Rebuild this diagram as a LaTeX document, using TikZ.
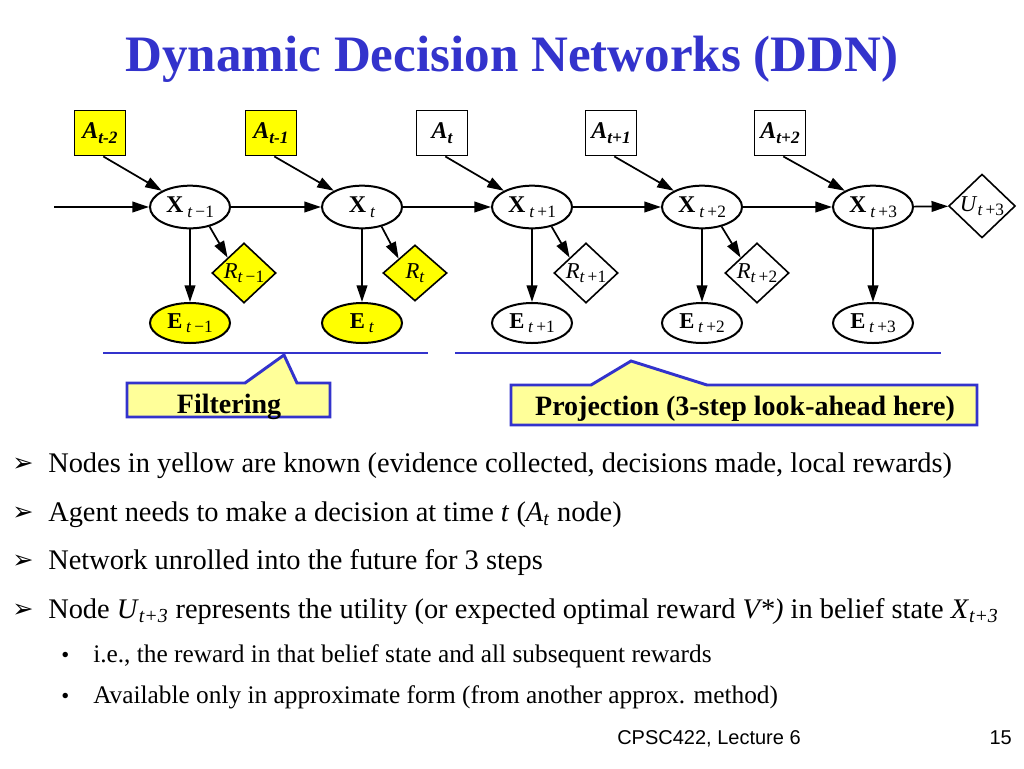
\documentclass[tikz,border=0pt]{standalone}
\usepackage{fontspec}
\setmainfont{Liberation Serif}
\setsansfont{Liberation Sans}
\newfontfamily\dejavu{DejaVu Sans}
\usetikzlibrary{shapes.geometric,arrows.meta}
\definecolor{ttl}{HTML}{3333CC}
\definecolor{yel}{HTML}{FFFF00}
\definecolor{lyel}{HTML}{FFFF99}
\newcommand\sbs[1]{\textsubscript{#1}}
% diagram subscripts
\newcommand\dsb[1]{\raisebox{-0.45ex}{\fontsize{13}{13}\selectfont #1}}
\newcommand\asb[1]{\raisebox{-0.5ex}{\fontsize{13}{13}\selectfont #1}}
\begin{document}
\begin{tikzpicture}[x=0.75pt,y=-0.75pt,
  arr/.style={-{Triangle[length=12.5pt,width=8pt]}, line width=1.3pt},
  xnode/.style={ellipse, draw, line width=1.5pt, minimum width=60pt, minimum height=32pt, inner sep=0pt, fill=white, font=\fontsize{18}{18}\selectfont},
  enode/.style={ellipse, draw, line width=1.5pt, minimum width=60pt, minimum height=30pt, inner sep=0pt, font=\fontsize{17}{17}\selectfont},
  rnode/.style={diamond, draw, line width=1.2pt, minimum width=48pt, minimum height=42pt, inner sep=0pt, font=\fontsize{17}{17}\selectfont},
  anode/.style={rectangle, draw, line width=1.2pt, minimum width=38pt, minimum height=34pt, inner sep=0pt, font=\fontsize{18}{18}\selectfont\bfseries\itshape},
  known/.style={fill=yel},
  callout/.style={fill=lyel, draw=ttl, line width=2.2pt, line join=miter},
  bar/.style={draw=ttl, line width=1.6pt},
  bodytxt/.style={anchor=base west, inner sep=0pt, font=\fontsize{21.3}{21.3}\selectfont},
  subtxt/.style={anchor=base west, inner sep=0pt, font=\fontsize{19}{19}\selectfont},
  bul/.style={anchor=base west, inner sep=0pt, font=\dejavu\fontsize{19}{19}\selectfont},
  dot/.style={anchor=base west, inner sep=0pt, font=\fontsize{17}{17}\selectfont}]
\useasboundingbox (0,0) rectangle (1024,768);
\fill[white] (0,0) rectangle (1024,768);

% title
\node[anchor=base, inner sep=0pt, text=ttl, font=\fontsize{38.3}{38.3}\selectfont\bfseries] (title) at (512,71) {Dynamic Decision Networks (DDN)};

% decision nodes
\node[anode,known] (A1) at (100,133) {A\asb{t-2}};
\node[anode,known] (A2) at (271,133) {A\asb{t-1}};
\node[anode] (A3) at (442,133) {A\asb{t}};
\node[anode] (A4) at (611,133) {A\asb{t+1}};
\node[anode] (A5) at (780,133) {A\asb{t+2}};

% state nodes
\node[xnode] (X1) at (190,207) {\textbf{X}\,\dsb{\textit{t}\,−1}};
\node[xnode] (X2) at (362,207) {\textbf{X}\,\dsb{\textit{t}}};
\node[xnode] (X3) at (532,207) {\textbf{X}\,\dsb{\textit{t}\,+1}};
\node[xnode] (X4) at (702,207) {\textbf{X}\,\dsb{\textit{t}\,+2}};
\node[xnode] (X5) at (873,207) {\textbf{X}\,\dsb{\textit{t}\,+3}};

% utility
\node[rnode, minimum width=50pt] (U) at (982,206) {\textit{U}\dsb{\textit{t}\,+3}};

% reward nodes
\node[rnode,known] (R1) at (244,273) {\textit{R}\dsb{\textit{t}\,−1}};
\node[rnode,known] (R2) at (415,273) {\textit{R}\dsb{\textit{t}}};
\node[rnode] (R3) at (586,273) {\textit{R}\dsb{\textit{t}\,+1}};
\node[rnode] (R4) at (757,273) {\textit{R}\dsb{\textit{t}\,+2}};

% evidence nodes
\node[enode,known] (E1) at (190,323) {\textbf{E}\,\dsb{\textit{t}\,−1}};
\node[enode,known] (E2) at (362,323) {\textbf{E}\,\dsb{\textit{t}}};
\node[enode] (E3) at (532,323) {\textbf{E}\,\dsb{\textit{t}\,+1}};
\node[enode] (E4) at (702,323) {\textbf{E}\,\dsb{\textit{t}\,+2}};
\node[enode] (E5) at (873,323) {\textbf{E}\,\dsb{\textit{t}\,+3}};

\coordinate (in) at (54,207);

% connectors
\draw[arr] (in) -- (X1.west);
\draw[arr] (X1) -- (X2);
\draw[arr] (X2) -- (X3);
\draw[arr] (X3) -- (X4);
\draw[arr] (X4) -- (X5);
\draw[arr] (X5) -- (U);
\foreach \i in {1,...,5}{
  \draw[arr] ([xshift=2.5pt]A\i.south) -- (X\i.150);
  \draw[arr] (X\i.south) -- (E\i.north);
}
\foreach \i in {1,...,4}{
  \draw[arr] (X\i.-45) -- (R\i.north west);
}

% brackets
\draw[bar] (103,353) -- (428,353);
\draw[bar] (455,353) -- (941,353);

% callouts
\draw[callout] (127,383) -- (245,383) -- (284,355) -- (297,383) -- (330,383) -- (330,417) -- (127,417) -- cycle;
\node[anchor=base, inner sep=0pt, font=\fontsize{21}{21}\selectfont\bfseries] (filt) at (229,413) {Filtering};
\draw[callout] (511,385) -- (591,385) -- (631,361) -- (707,385) -- (977,385) -- (977,425) -- (511,425) -- cycle;
\node[anchor=base, inner sep=0pt, font=\fontsize{21}{21}\selectfont\bfseries] (proj) at (745,415) {Projection (3-step look-ahead here)};

% bullets
\node[bul] (b1) at (12,471) {➢};
\node[bodytxt] (t1) at (48,472) {Nodes in yellow are known (evidence collected, decisions made, local rewards)};
\node[bul] (b2) at (12,520) {➢};
\node[bodytxt] (t2) at (48,521) {Agent needs to make a decision at time \textit{t} (\textit{A}\sbs{\textit{t}} node)};
\node[bul] (b3) at (12,568) {➢};
\node[bodytxt] (t3) at (48,569) {Network unrolled into the future for 3 steps};
\node[bul] (b4) at (12,617) {➢};
\node[bodytxt] (t4) at (48,618) {Node \textit{U}\sbs{\textit{t+3}} represents the utility (or expected optimal reward \textit{V*)} in belief state \textit{X}\sbs{\textit{t+3}}};
\node[dot] (d1) at (61,662) {•};
\node[subtxt] (s1) at (93,662) {i.e., the reward in that belief state and all subsequent rewards};
\node[dot] (d2) at (61,703) {•};
\node[subtxt] (s2) at (93,703) {Available only in approximate form (from another approx. method)};

% footer
\node[anchor=base west, inner sep=0pt, font=\sffamily\fontsize{15}{15}\selectfont] (foot) at (617,744) {CPSC422, Lecture 6};
\node[anchor=base east, inner sep=0pt, font=\sffamily\fontsize{15}{15}\selectfont] (pg) at (1012,744) {15};
\end{tikzpicture}
\end{document}
